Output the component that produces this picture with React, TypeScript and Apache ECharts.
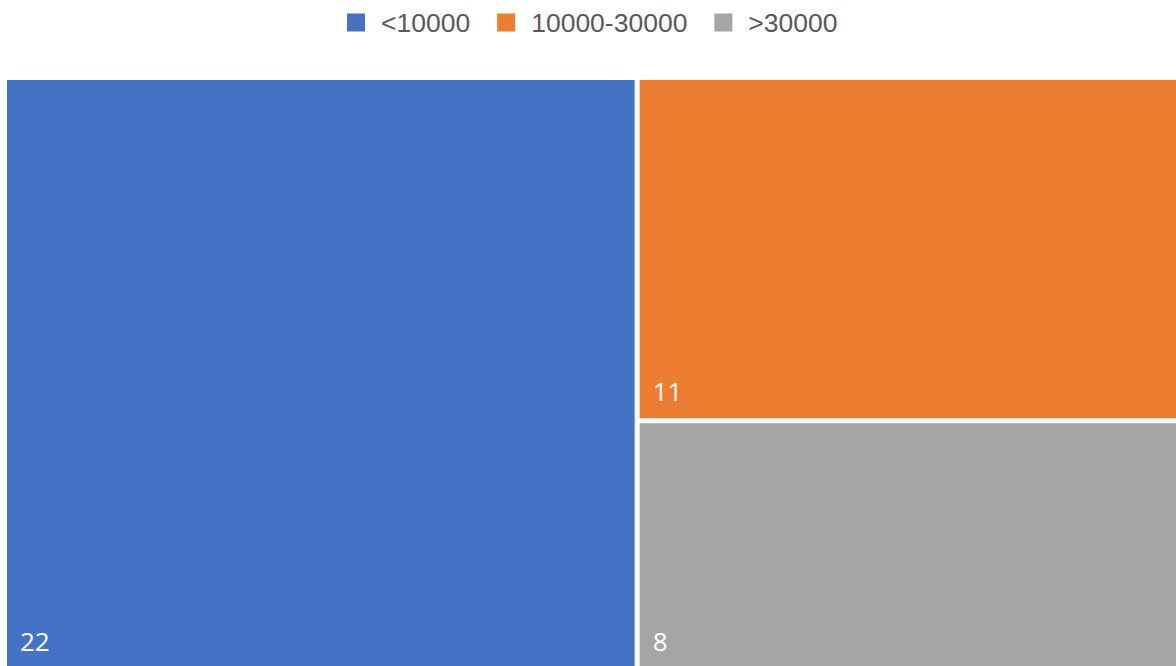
import React, { useEffect, useRef } from "react";
import * as echarts from "echarts";

const categories = ["<10000", "10000-30000", ">30000"];
const values = [22, 11, 8];
const colors = ["#4472C4", "#ED7D31", "#A5A5A5"];

export default function App() {
  const ref = useRef<HTMLDivElement>(null);
  useEffect(() => {
    if (!ref.current) return;
    const chart = echarts.init(ref.current, undefined, { renderer: "svg" });
    const treeData = categories.map((name, i) => ({
      name,
      value: values[i],
      itemStyle: { color: colors[i] },
    }));
    const dummy = categories.map((name, i) => ({
      name,
      type: "scatter" as const,
      data: [],
      itemStyle: { color: colors[i], opacity: 1 },
      xAxisIndex: 0,
      yAxisIndex: 0,
    }));
    chart.setOption({
      animation: false,
      backgroundColor: "#ffffff",
      legend: {
        data: categories,
        top: 4,
        left: 342,
        icon: "rect",
        itemWidth: 18,
        itemHeight: 18,
        itemGap: 27,
        selectedMode: false,
        itemStyle: { opacity: 1 },
        textStyle: {
          fontFamily: "Liberation Sans, Arial, sans-serif",
          fontSize: 26.5,
          color: "#595959",
          padding: [0, 0, 0, 11],
        },
      },
      grid: { left: 0, top: 0, width: 1, height: 1, show: false },
      xAxis: { show: false, type: "value" },
      yAxis: { show: false, type: "value" },
      series: [
        ...dummy,
        {
          type: "treemap",
          left: 7,
          top: 80,
          right: -5,
          bottom: -2,
          roam: false,
          nodeClick: false,
          squareRatio: 1,
          breadcrumb: { show: false },
          data: treeData,
          levels: [
            { itemStyle: { borderWidth: 0, gapWidth: 5, borderColor: "#ffffff" } },
            { itemStyle: { borderWidth: 0, gapWidth: 0 } },
          ],
          label: {
            show: true,
            position: "insideBottomLeft",
            formatter: (p: any) => String(p.value),
            color: "#ffffff",
            fontSize: 26,
            fontFamily: "Open Sans, Liberation Sans, Arial, sans-serif",
            padding: [0, 0, 14, 13],
          },
          upperLabel: { show: false },
        },
      ],
    });
    return () => chart.dispose();
  }, []);
  return <div ref={ref} style={{ width: 1176, height: 666, position: "absolute", left: 0, top: 0 }} />;
}
